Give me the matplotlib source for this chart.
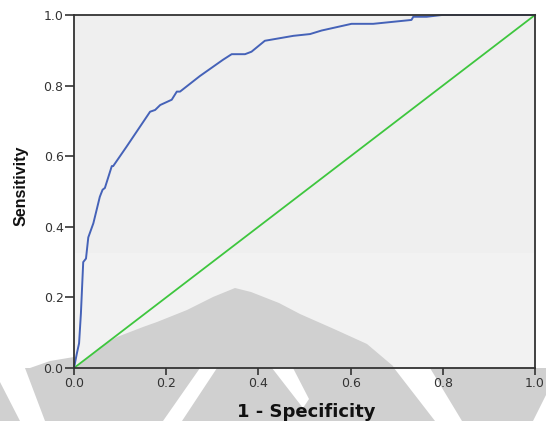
import matplotlib
matplotlib.use("Agg")
import matplotlib.pyplot as plt
from matplotlib.patches import Polygon, Rectangle
from matplotlib.transforms import Affine2D

# ROC curve points read as (1 - specificity, sensitivity)
fpr = [0, 0.006, 0.011, 0.015, 0.02, 0.026, 0.031, 0.042, 0.056, 0.062, 0.067,
       0.082, 0.085, 0.114, 0.165, 0.176, 0.187, 0.212, 0.223, 0.23, 0.273,
       0.323, 0.342, 0.371, 0.385, 0.414, 0.476, 0.512, 0.537, 0.602, 0.649,
       0.732, 0.736, 0.765, 0.798, 1.0]
tpr = [0, 0.04, 0.07, 0.155, 0.30, 0.31, 0.37, 0.41, 0.485, 0.505, 0.51,
       0.572, 0.572, 0.627, 0.726, 0.731, 0.745, 0.76, 0.783, 0.783, 0.827,
       0.873, 0.889, 0.889, 0.896, 0.927, 0.941, 0.946, 0.956, 0.975, 0.975,
       0.986, 0.995, 0.995, 1.0, 1.0]

# reference line
diag = [0, 1]

ticks = [0.0, 0.2, 0.4, 0.6, 0.8, 1.0]
tick_labels = ["0.0", "0.2", "0.4", "0.6", "0.8", "1.0"]

W, H = 546, 421
fig = plt.figure(figsize=(W / 100, H / 100), dpi=100)
ax = fig.add_axes([74 / W, (H - 368) / H, 461 / W, 353 / H])
ax.set_facecolor("#efefef")

# pixel coords, origin top-left
pix = Affine2D().scale(1 / W, -1 / H).translate(0, 1) + fig.transFigure

# faint watermark behind the plot
wm_grey = "#d0d0d0"
shapes = [
    (Rectangle((74, 253), 461, 115), "#f2f2f2"),
    (Polygon([(0, 368), (546, 368), (546, 421), (0, 421)]), wm_grey),
    (Polygon([(30, 368), (50, 361), (74, 357), (74, 368)]), wm_grey),
    (Polygon([(76, 368), (77, 367), (100, 347), (117, 337), (143, 327),
              (157, 322), (187, 310), (213, 297), (235, 288), (251, 292),
              (279, 303), (300, 314), (334, 329), (367, 344), (393, 366),
              (394, 368)]), wm_grey),
    (Polygon([(0, 368), (25, 368), (45, 421), (20, 421), (0, 382)]), "white"),
    (Polygon([(200, 368), (217, 368), (182, 421), (163, 421)]), "white"),
    (Polygon([(272, 368), (293, 368), (309, 399), (303, 408)]), "white"),
    (Polygon([(394, 368), (430, 368), (462, 421), (435, 421)]), "white"),
    (Polygon([(546, 395), (546, 421), (533, 421)]), "white"),
]
for p, c in shapes:
    p.set_transform(pix)
    p.set_facecolor(c)
    p.set_edgecolor("none")
    p.set_clip_on(False)
    p.set_zorder(0.5)
    ax.add_patch(p)

ax.plot(fpr, tpr, color="#4562b8", lw=1.4, zorder=3, clip_on=False)
ax.plot(diag, diag, color="#3ec63e", lw=1.3, zorder=2.8, clip_on=False)

ax.set_xlim(0, 1)
ax.set_ylim(0, 1)
ax.set_xticks(ticks)
ax.set_xticklabels(tick_labels)
ax.set_yticks(ticks)
ax.set_yticklabels(tick_labels)

for s in ax.spines.values():
    s.set_color("#333333")
    s.set_linewidth(1.3)
    s.set_zorder(4)

ax.tick_params(axis="both", colors="#333333", labelsize=9, width=1.2)
ax.tick_params(axis="x", length=5, pad=1.5)
ax.tick_params(axis="y", length=6.5, pad=1)

ax.set_xlabel("1 - Specificity", fontsize=13, fontweight="bold",
              family="DejaVu Sans", color="#111111", va="baseline")
ax.xaxis.set_label_coords(0.503, -0.139)
ax.set_ylabel("Sensitivity", fontsize=11.5, fontweight="bold",
              family="Liberation Sans", color="#111111", va="center")
ax.yaxis.set_label_coords(-0.115, 0.517)

fig.savefig("out.png", dpi=100)
